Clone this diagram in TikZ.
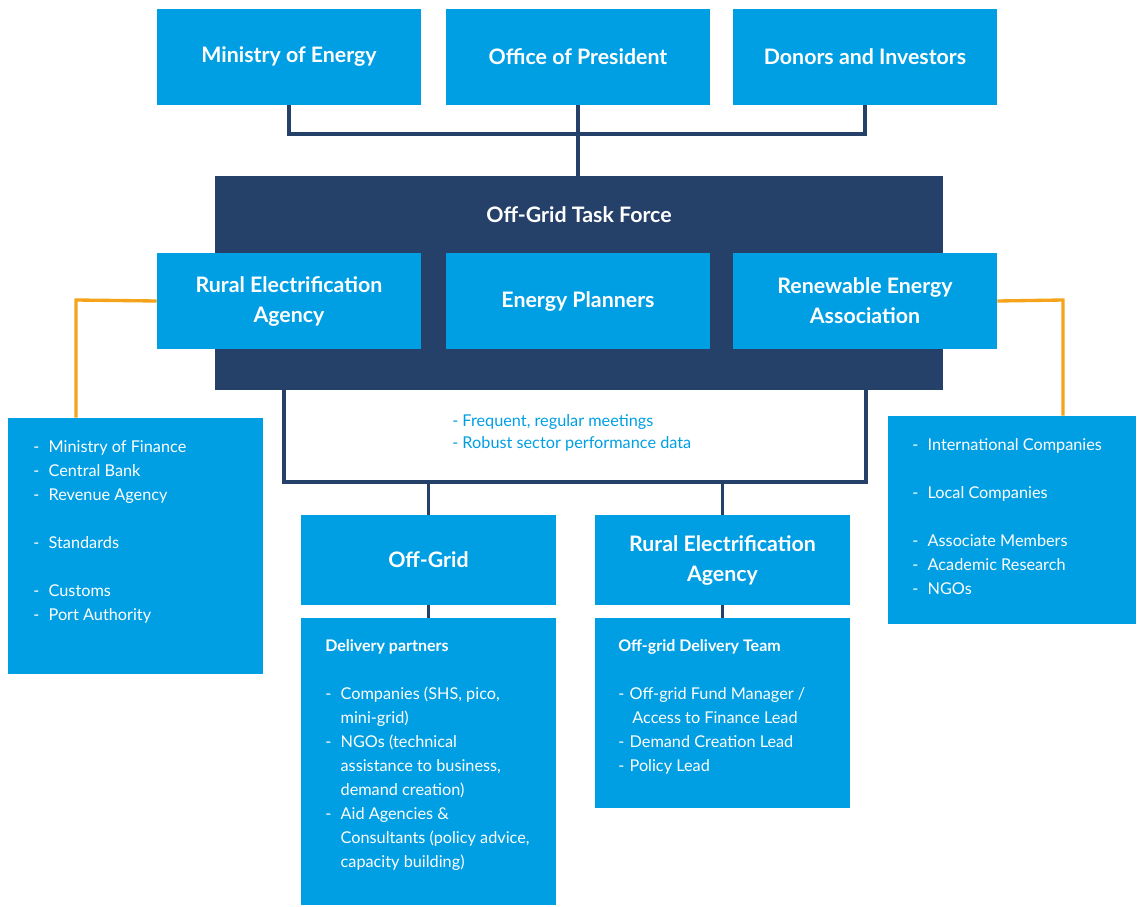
\documentclass[tikz,border=0pt]{standalone}
\usepackage{fontspec}
\setmainfont{Lato}
\definecolor{skyblue}{HTML}{009FE3}
\definecolor{navy}{HTML}{25416A}
\definecolor{amber}{HTML}{F5A31A}
\newcommand{\listfont}{\fontsize{12.2}{18}\selectfont}

\begin{document}
\begin{tikzpicture}[x=0.75pt,y=-0.75pt,
	box/.style={fill=skyblue,text=white,inner sep=0pt,align=center,font=\bfseries\fontsize{16}{22.5}\selectfont},
	wide/.style={box,minimum width=198pt,minimum height=72pt},
	lower/.style={box,minimum width=191.25pt,minimum height=67.5pt},
	listbox/.style={fill=skyblue,inner sep=0pt,minimum width=191.25pt},
	items/.style={text=white,anchor=base west,inner sep=0pt,font=\listfont},
	link/.style={navy,line width=2.7pt},
	side/.style={amber,line width=2.5pt}]
	\useasboundingbox (0,0) rectangle (1137,906);
	% top row
	\node[wide] (energy) at (289,57) {Ministry of Energy};
	\node[wide] (president) at (578,57) {Office of President};
	\node[wide] (donors) at (865,57) {Donors and Investors};
	% task force
	\node[fill=navy,inner sep=0pt,minimum width=546pt,minimum height=160.5pt] (taskforce) at (579,283) {};
	\node[text=white,font=\bfseries\fontsize{16}{18}\selectfont] (tftitle) at (579,215) {Off-Grid Task Force};
	\node[wide] (rea) at (289,301) {Rural Electrification\\Agency};
	\node[wide] (planners) at (578,301) {Energy Planners};
	\node[wide] (rena) at (865,301) {Renewable Energy\\Association};
	% side lists
	\node[listbox,minimum height=192pt] (finance) at (135.5,546) {};
	\node[items] (financelist) at (33,452) {\begin{tabular}[t]{@{}l@{\hspace{7pt}}l@{}}
		- & Ministry of Finance\\ - & Central Bank\\ - & Revenue Agency\\ & \\
		- & Standards\\ & \\ - & Customs\\ - & Port Authority\end{tabular}};
	\node[listbox,minimum width=186pt,minimum height=156pt] (market) at (1012,520) {};
	\node[items] (marketlist) at (912,450) {\begin{tabular}[t]{@{}l@{\hspace{7pt}}l@{}}
		- & International Companies\\ & \\ - & Local Companies\\ & \\
		- & Associate Members\\ - & Academic Research\\ - & NGOs\end{tabular}};
	% meetings
	\node[anchor=base west,inner sep=0pt,text=skyblue,font=\fontsize{12.2}{16.5}\selectfont] (meetings) at (452,426)
		{\begin{tabular}[t]{@{}l@{}}- Frequent, regular meetings\\- Robust sector performance data\end{tabular}};
	% lower row
	\node[lower] (offgrid) at (428.5,560) {Off-Grid};
	\node[lower] (rea2) at (722.5,560) {Rural Electrification\\Agency};
	\node[listbox,minimum height=215.25pt] (partners) at (428.5,761.5) {};
	\node[items] (partnerlist) at (325,651) {\begin{tabular}[t]{@{}l@{\hspace{7pt}}l@{}}
		\multicolumn{2}{@{}l@{}}{\bfseries\fontsize{12}{18}\selectfont Delivery partners}\\ & \\
		- & Companies (SHS, pico,\\ & mini-grid)\\
		- & NGOs (technical\\ & assistance to business,\\ & demand creation)\\
		- & Aid Agencies \&\\ & Consultants (policy advice,\\ & capacity building)\end{tabular}};
	\node[listbox,minimum height=142.5pt] (team) at (722.5,713) {};
	\node[items] (teamlist) at (618,651) {\begin{tabular}[t]{@{}l@{\hspace{4pt}}l@{}}
		\multicolumn{2}{@{}l@{}}{\bfseries\fontsize{12}{18}\selectfont Off-grid Delivery Team}\\ & \\
		- & Off-grid Fund Manager /\\ & \hspace{2pt}Access to Finance Lead\\
		- & Demand Creation Lead\\ - & Policy Lead\end{tabular}};
	% connectors
	\coordinate (topbar) at (578,134);
	\draw[link] (energy.south) |- (topbar) -| (donors.south);
	\draw[link] (president.south) -- (president.south |- taskforce.north);
	\coordinate (bracketl) at (284,482);
	\coordinate (bracketr) at (866,482);
	\draw[link] (taskforce.south -| bracketl) -- (bracketl) -- (bracketr) -- (taskforce.south -| bracketr);
	\draw[link] (offgrid.north |- bracketl) -- (offgrid.north);
	\draw[link] (rea2.north |- bracketr) -- (rea2.north);
	\draw[link] (offgrid.south) -- (partners.north);
	\draw[link] (rea2.south) -- (team.north);
	\coordinate (leftdrop) at (76,300);
	\coordinate (rightdrop) at (1063,300);
	\draw[side] (rea.west) -- (leftdrop) -- (leftdrop |- finance.north);
	\draw[side] (rena.east) -- (rightdrop) -- (rightdrop |- market.north);
\end{tikzpicture}
\end{document}
